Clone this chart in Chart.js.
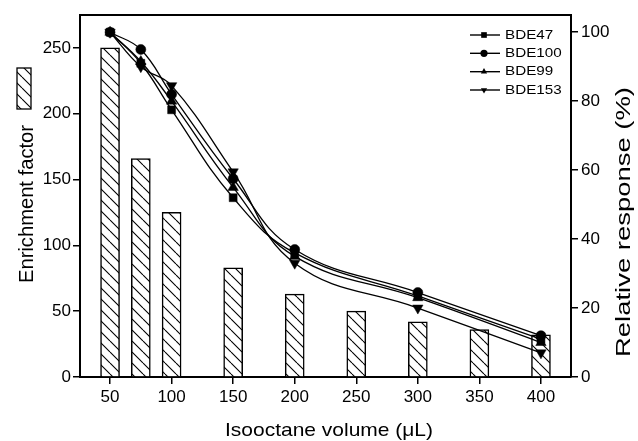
<!DOCTYPE html>
<html>
<head>
<meta charset="utf-8">
<script src="https://cdn.jsdelivr.net/npm/chart.js@4.4.1/dist/chart.umd.min.js"></script>
<style>
  html, body { margin: 0; padding: 0; background: #fff; }
</style>
</head>
<body>
<canvas id="chart" width="638" height="441"></canvas>
<script>
// enrichment factor (bars, left axis)
const volumes = [50, 75, 100, 150, 200, 250, 300, 350, 400];
const enrichment = [250, 166, 125, 83, 63, 50, 42, 36, 32];

// relative response (lines, right axis)
const responseVolumes = [50, 75, 100, 150, 200, 300, 400];
const bde47 = [100, 91, 77.5, 52, 36, 23.5, 11];
const bde100 = [100, 95, 82, 57.5, 37, 24.5, 12];
const bde99 = [100, 91.5, 80, 55, 35, 23, 10];
const bde153 = [100, 90, 84.5, 59.5, 33, 20, 7];
const seriesNames = ['BDE47', 'BDE100', 'BDE99', 'BDE153'];

const xTicks = [50, 100, 150, 200, 250, 300, 350, 400];
const leftTicks = [0, 50, 100, 150, 200, 250];
const rightTicks = [0, 20, 40, 60, 80, 100];

const FONT = "'Liberation Sans', Arial, sans-serif";
const markers = [
  { style: 'rect', rot: 0, r: 5.6 },
  { style: 'circle', rot: 0, r: 5 },
  { style: 'triangle', rot: 0, r: 6 },
  { style: 'triangle', rot: 180, r: 6 }
];

const canvas = document.getElementById('chart');
const mainCtx = canvas.getContext('2d');

function makeHatch() {
  const s = 11;
  const c = document.createElement('canvas');
  c.width = s; c.height = s;
  const g = c.getContext('2d');
  g.fillStyle = '#fff';
  g.fillRect(0, 0, s, s);
  g.strokeStyle = '#000';
  g.lineWidth = 1.1;
  g.beginPath();
  for (const k of [-s, 0, s]) { g.moveTo(k, 0); g.lineTo(k + s, s); }
  g.stroke();
  return mainCtx.createPattern(c, 'repeat');
}
const hatch = makeHatch();

function stretchText(ctx, text, x, y, size, length, angle) {
  ctx.save();
  ctx.translate(x, y);
  ctx.rotate(angle);
  ctx.font = size + 'px ' + FONT;
  const w = ctx.measureText(text).width;
  ctx.scale(length / w, 1);
  ctx.textAlign = 'center';
  ctx.textBaseline = 'alphabetic';
  ctx.fillStyle = '#000';
  ctx.fillText(text, 0, 0);
  ctx.restore();
}

function marker(ctx, m, x, y, r) {
  ctx.beginPath();
  if (m.style === 'rect') {
    const h = r * Math.SQRT1_2;
    ctx.rect(x - h, y - h, 2 * h, 2 * h);
  } else if (m.style === 'circle') {
    ctx.arc(x, y, r, 0, Math.PI * 2);
  } else {
    const d = m.rot === 180 ? -1 : 1;
    ctx.moveTo(x, y - d * r);
    ctx.lineTo(x + r * 0.87, y + d * r * 0.5);
    ctx.lineTo(x - r * 0.87, y + d * r * 0.5);
    ctx.closePath();
  }
  ctx.fill();
}

const decor = {
  id: 'decor',
  afterDraw(chart) {
    const { ctx, chartArea: a } = chart;
    ctx.save();
    // top frame line
    ctx.strokeStyle = '#000';
    ctx.lineWidth = 2;
    ctx.beginPath();
    ctx.moveTo(a.left - 1, a.top);
    ctx.lineTo(a.right + 1, a.top);
    ctx.stroke();

    // axis titles
    stretchText(ctx, 'Isooctane volume (\u03bcL)', 329, 436, 19, 208, 0);
    stretchText(ctx, 'Enrichment factor', 33, 204, 20, 158, -Math.PI / 2);
    stretchText(ctx, 'Relative response (%)', 630, 222, 20, 270, -Math.PI / 2);

    // hatched key for the bars
    ctx.fillStyle = hatch;
    ctx.fillRect(17, 68, 14, 41);
    ctx.strokeStyle = '#000';
    ctx.lineWidth = 1.3;
    ctx.strokeRect(17, 68, 14, 41);

    // series legend
    const rows = [35, 53.3, 71.7, 90];
    chart.data.datasets.filter(d => d.type === 'line').forEach((d, i) => {
      const y = rows[i];
      ctx.strokeStyle = '#000';
      ctx.lineWidth = 1.4;
      ctx.beginPath();
      ctx.moveTo(470, y);
      ctx.lineTo(500, y);
      ctx.stroke();
      ctx.fillStyle = '#000';
      marker(ctx, markers[i], 484, y, markers[i].style === 'rect' ? 4 : 3.6);
      ctx.save();
      ctx.translate(505, y);
      ctx.scale(1.17, 1);
      ctx.font = '13px ' + FONT;
      ctx.textBaseline = 'middle';
      ctx.textAlign = 'left';
      ctx.fillText(d.label, 0, 0);
      ctx.restore();
    });
    ctx.restore();
  }
};

const lineSeries = [bde47, bde100, bde99, bde153];
const lineSets = lineSeries.map((vals, i) => ({
  type: 'line',
  label: seriesNames[i],
  data: responseVolumes.map((x, j) => ({ x: x, y: vals[j] })),
  yAxisID: 'y1',
  borderColor: '#000',
  borderWidth: 1.3,
  pointStyle: markers[i].style,
  pointRotation: markers[i].rot,
  pointRadius: markers[i].r,
  pointBackgroundColor: '#000',
  pointBorderColor: '#000',
  pointBorderWidth: 0.5,
  tension: 0.42,
  fill: false,
  order: 0
}));

const tickFont = { family: FONT, size: 17 };
const axisGrid = { drawOnChartArea: false, offset: false, tickLength: 7, color: '#000', lineWidth: 1.5 };
const axisBorder = { color: '#000', width: 2 };

new Chart(canvas, {
  type: 'bar',
  data: {
    datasets: [
      ...lineSets,
      {
        type: 'bar',
        label: 'Enrichment factor',
        data: volumes.map((x, i) => ({ x: x, y: enrichment[i] })),
        yAxisID: 'y',
        backgroundColor: hatch,
        borderColor: '#000',
        borderWidth: 1.5,
        barThickness: 19,
        order: 1
      }
    ]
  },
  options: {
    responsive: false,
    animation: false,
    devicePixelRatio: 1,
    layout: { padding: { top: 15, left: 0, right: 0, bottom: 0 } },
    plugins: {
      legend: { display: false },
      tooltip: { enabled: false }
    },
    scales: {
      x: {
        type: 'linear',
        min: 25.6,
        max: 424.4,
        offset: false,
        afterBuildTicks: s => { s.ticks = xTicks.map(v => ({ value: v })); },
        afterFit: s => { s.height = 64; },
        ticks: { color: '#000', font: tickFont, padding: 3, maxRotation: 0, autoSkip: false },
        grid: axisGrid,
        border: axisBorder
      },
      y: {
        position: 'left',
        min: 0,
        max: 275,
        afterBuildTicks: s => { s.ticks = leftTicks.map(v => ({ value: v })); },
        afterFit: s => { s.width = 80; },
        ticks: { color: '#000', font: tickFont, padding: 2 },
        grid: axisGrid,
        border: axisBorder
      },
      y1: {
        position: 'right',
        min: 0,
        max: 105,
        afterBuildTicks: s => { s.ticks = rightTicks.map(v => ({ value: v })); },
        afterFit: s => { s.width = 67; },
        ticks: { color: '#000', font: tickFont, padding: 3 },
        grid: axisGrid,
        border: axisBorder
      }
    }
  },
  plugins: [decor]
});
</script>
</body>
</html>
